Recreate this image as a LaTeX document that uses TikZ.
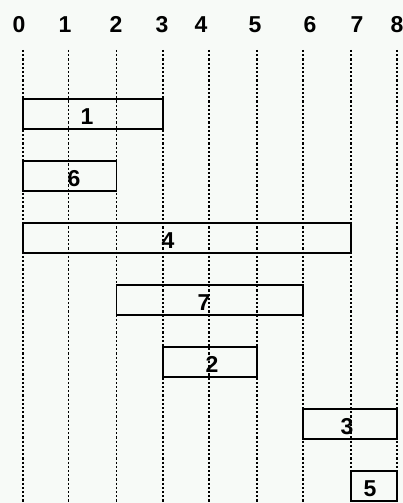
\documentclass[tikz,border=0pt]{standalone}
\usepackage{fontspec}
\setmainfont{Liberation Sans}
\usetikzlibrary{positioning}

\definecolor{paper}{RGB}{247,250,247}
% x positions of the grid lines, one per time unit
\def\gridx{{22.7,68.3,116.3,162.7,208.7,256.7,302.7,350.7,396.7}}

\begin{document}
\begin{tikzpicture}[
  x=1pt, y=-1pt,
  tick/.style={font=\bfseries\fontsize{23}{23}\selectfont, inner sep=0pt, anchor=base},
  gridline/.style={line width=1.6pt, dash pattern=on 2.2pt off 2pt},
  bar/.style={rectangle, draw, line width=1.6pt, minimum height=30pt, inner sep=0pt},
  num/.style={font=\bfseries\fontsize{23}{23}\selectfont, inner sep=0pt, anchor=base}
]
  \fill[paper] (0,0) rectangle (403,503);
  \useasboundingbox (0,0) rectangle (403,503);

  % time axis
  \foreach \i/\lx in {0/19, 1/65, 2/116, 3/162, 4/201, 5/255, 6/310, 7/357, 8/397} {
    \pgfmathsetmacro\gx{\gridx[\i]}
    \node[tick] (t\i) at (\lx,33) {\i};
    \coordinate (top\i) at (\gx,50);
    \coordinate (bot\i) at (\gx,503);
    \draw[gridline] (top\i) -- (bot\i);
  }

  % jobs: label/start/end/row/label x
  \foreach \n/\a/\b/\r/\lx in {1/0/3/0/87, 6/0/2/1/74, 4/0/7/2/168, 7/2/6/3/204,
                               2/3/5/4/212, 3/6/8/5/347, 5/7/8/6/370} {
    \pgfmathsetmacro\xa{\gridx[\a]}
    \pgfmathsetmacro\xb{\gridx[\b]}
    \pgfmathsetmacro\w{\xb-\xa}
    \node[bar, minimum width=\w pt] (bar\n) at ({(\xa+\xb)/2},{114+62*\r}) {};
    \node[num] (num\n) at (\lx,{124+62*\r}) {\n};
  }
\end{tikzpicture}
\end{document}
